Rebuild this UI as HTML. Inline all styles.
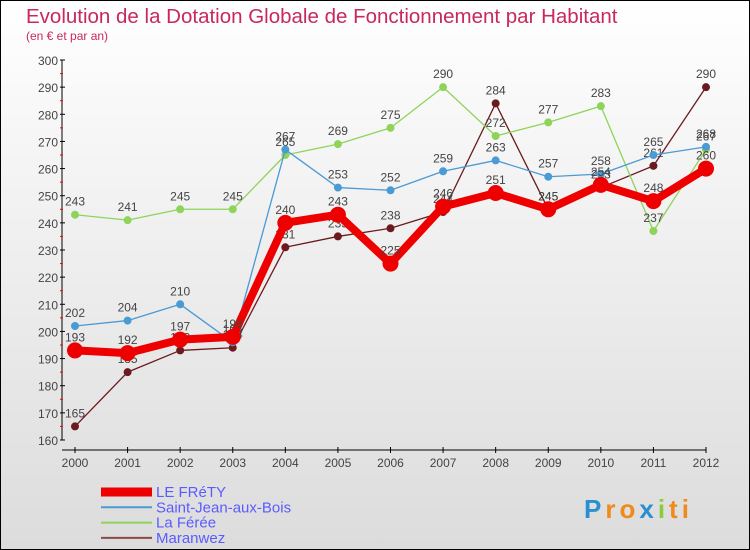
<!DOCTYPE html>
<html><head><meta charset="utf-8"><style>
html,body{margin:0;padding:0}
body{width:750px;height:550px;overflow:hidden;font-family:"Liberation Sans",sans-serif}
#wrap{position:relative;width:748px;height:548px;border:1px solid #000;background:linear-gradient(#fff,#f4f4f4 30%,#dcdcdc)}
</style></head><body>
<div id="wrap">
<svg id="chart" width="748" height="548" style="position:absolute;left:0;top:0"></svg>
</div>
<script>
const years=["2000","2001","2002","2003","2004","2005","2006","2007","2008","2009","2010","2011","2012"];
const yTicks=[160,170,180,190,200,210,220,230,240,250,260,270,280,290,300];
const seriesNames=["LE FRéTY","Saint-Jean-aux-Bois","La Férée","Maranwez"];
const leFrety=[193,192,197,198,240,243,225,246,251,245,254,248,260];
const saintJean=[202,204,210,196,267,253,252,259,263,257,258,265,268];
const laFeree=[243,241,245,245,265,269,275,290,272,277,283,237,267];
const maranwez=[165,185,193,194,231,235,238,244,284,245,253,261,290];

const NS="http://www.w3.org/2000/svg";
const svg=document.getElementById('chart');
function el(t,a,p){const e=document.createElementNS(NS,t);for(const k in a)e.setAttribute(k,a[k]);(p||svg).appendChild(e);return e;}
const X=i=>74+i*(705-74)/(years.length-1);
const Y=v=>59+(300-v)*(380/140);

let t=el('text',{x:25,y:22,fill:'#c8285a','font-size':20.5});t.textContent='Evolution de la Dotation Globale de Fonctionnement par Habitant';


t=el('text',{x:25,y:39,fill:'#c8285a','font-size':12});t.textContent='(en € et par an)';



let a=el('line',{x1:61,y1:Y(300),x2:61,y2:Y(160),stroke:'#000'});


a=el('line',{x1:61,y1:449,x2:X(12),y2:449,stroke:'#000'});


yTicks.forEach(v=>{
  el('line',{x1:59,y1:Y(v),x2:64,y2:Y(v),stroke:'#000'});
  if(v<300)el('line',{x1:59,y1:Y(v+5),x2:62,y2:Y(v+5),stroke:'#f00'});
  const tt=el('text',{x:57,y:Y(v)+5,'text-anchor':'end',fill:'#444','font-size':12});tt.textContent=v;
  
  
});
years.forEach((y,i)=>{
  el('line',{x1:X(i),y1:446,x2:X(i),y2:452,stroke:'#000'});
  const tt=el('text',{x:X(i),y:466,'text-anchor':'middle',fill:'#444','font-size':12});tt.textContent=y;
  
  
});

const defs=[
 {d:maranwez,c:'#6b1a1e',w:1.3,r:4,name:'maranwez'},
 {d:laFeree,c:'#8ed45a',w:1.3,r:4,name:'la-feree'},
 {d:saintJean,c:'#4a9ad4',w:1.3,r:4,name:'saint-jean-aux-bois'},
 {d:leFrety,c:'#ee0000',w:8,r:8,name:'le-frety'}
];
defs.forEach(s=>{
  const g=el('g',{});
  
  
  const p=el('polyline',{points:s.d.map((v,i)=>X(i)+','+Y(v)).join(' '),fill:'none',stroke:s.c,'stroke-width':s.w,'stroke-linejoin':'round'},g);
  
  
  s.d.forEach((v,i)=>{
    const c=el('circle',{cx:X(i),cy:Y(v),r:s.r,fill:s.c},g);
    
    
    const tt=el('text',{x:X(i),y:Y(v)-9,'text-anchor':'middle',fill:'#444','font-size':12},g);tt.textContent=v;
    
    
  });
});

const lg=[{c:'#ee0000',w:9},{c:'#4a9ad4',w:2},{c:'#8ed45a',w:2},{c:'#8b4a4a',w:2}];
lg.forEach((l,i)=>{
  const yy=491+i*15.3;
  const ln=el('line',{x1:100,y1:yy,x2:151,y2:yy,stroke:l.c,'stroke-width':l.w});
  
  
  const tt=el('text',{x:155,y:yy+5,fill:'#5b5bff','font-size':15});tt.textContent=seriesNames[i];
  
  
});
const logo=el('text',{x:583,y:517,'font-size':26,'font-weight':'bold','letter-spacing':4});


[['P','#2a8fd0'],['ro','#f08a1c'],['x','#2a8fd0'],['i','#8ccc3a'],['ti','#f08a1c']].forEach(p=>{const s=el('tspan',{fill:p[1]},logo);s.textContent=p[0];});
</script>
</body></html>
